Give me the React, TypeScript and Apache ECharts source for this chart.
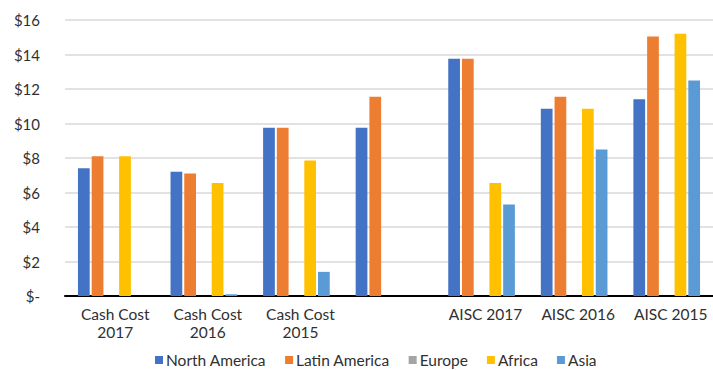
import React, { useEffect, useRef } from "react";
import * as echarts from "echarts";

const categories = [
  "Cash Cost\n2017",
  "Cash Cost\n2016",
  "Cash Cost\n2015",
  "",
  "AISC 2017",
  "AISC 2016",
  "AISC 2015",
];

const seriesNames = ["North America", "Latin America", "Europe", "Africa", "Asia"];
const seriesColors = ["#4472C4", "#ED7D31", "#A5A5A5", "#FFC000", "#5B9BD5"];

const northAmerica = [7.4, 7.2, 9.75, 9.75, 13.75, 10.85, 11.4];
const latinAmerica = [8.1, 7.1, 9.75, 11.55, 13.75, 11.55, 15.05];
const europe = [null, null, null, null, null, null, null];
const africa = [8.1, 6.55, 7.85, null, 6.55, 10.85, 15.2];
const asia = [null, 0.1, 1.4, null, 5.3, 8.5, 12.5];

const seriesValues = [northAmerica, latinAmerica, europe, africa, asia];

const yMin = 0;
const yMax = 16;
const yStep = 2;

const FONT = "Lato, 'Noto Sans', sans-serif";
const TEXT = "#303030";

export default function App() {
  const ref = useRef<HTMLDivElement>(null);

  useEffect(() => {
    if (!ref.current) return;
    const chart = echarts.init(ref.current, null, { renderer: "svg" });
    chart.setOption({
      animation: false,
      textStyle: { fontFamily: FONT },
      grid: { left: 65, right: 0, top: 20, bottom: 74, containLabel: false },
      legend: {
        data: seriesNames,
        left: 155,
        top: 352,
        padding: 0,
        itemWidth: 8,
        itemHeight: 8,
        itemGap: 19,
        icon: "rect",
        textStyle: {
          fontFamily: FONT,
          fontSize: 15.5,
          color: TEXT,
          padding: [0, 0, 0, -2],
        },
      },
      xAxis: {
        type: "category",
        data: categories,
        axisLine: { lineStyle: { color: "#000000", width: 2 } },
        axisTick: { show: false },
        axisLabel: {
          interval: 0,
          fontFamily: FONT,
          fontSize: 15.5,
          lineHeight: 18,
          color: TEXT,
          margin: 9,
          padding: [0, 0, 0, 8],
        },
      },
      yAxis: {
        type: "value",
        min: yMin,
        max: yMax,
        interval: yStep,
        axisLine: { show: false },
        axisTick: { show: false },
        splitLine: { lineStyle: { color: "#D9D9D9", width: 1.5 } },
        axisLabel: {
          fontFamily: FONT,
          fontSize: 15,
          color: TEXT,
          margin: 25,
          formatter: (v: number) => (v === 0 ? "$-" : "$" + v),
        },
      },
      series: seriesNames.map((name, i) => ({
        name,
        type: "bar",
        data: seriesValues[i],
        itemStyle: { color: seriesColors[i] },
        barGap: "17%",
        barCategoryGap: "28%",
      })),
    });
    return () => chart.dispose();
  }, []);

  return (
    <div
      ref={ref}
      style={{ position: "fixed", left: 0, top: 0, width: 713, height: 370, background: "#fff" }}
    />
  );
}
